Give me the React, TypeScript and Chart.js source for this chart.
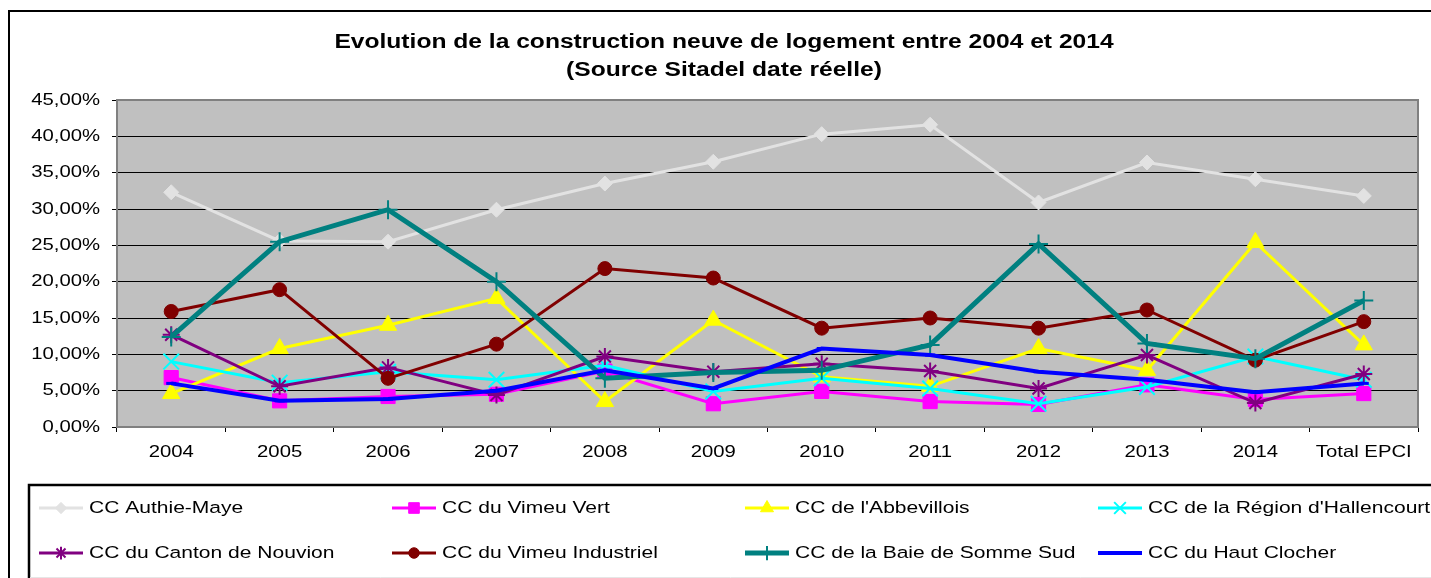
import { useEffect, useRef } from 'react';
import { Chart, registerables } from 'chart.js';
import { drawPoint } from 'chart.js/helpers';

Chart.register(...registerables);

const CATEGORIES = ['2004', '2005', '2006', '2007', '2008', '2009', '2010', '2011', '2012', '2013', '2014', 'Total EPCI'];

const TITLE_LINES = ['Evolution de la construction neuve de logement entre 2004 et 2014', '(Source Sitadel date réelle)'];

const SERIES_NAMES = [
  'CC Authie-Maye',
  'CC du Vimeu Vert',
  "CC de l'Abbevillois",
  "CC de la Région d'Hallencourt",
  'CC du Canton de Nouvion',
  'CC du Vimeu Industriel',
  'CC de la Baie de Somme Sud',
  'CC du Haut Clocher',
];

const AUTHIE_MAYE = [32.3, 25.6, 25.5, 29.9, 33.5, 36.5, 40.3, 41.6, 30.9, 36.4, 34.1, 31.8];
const VIMEU_VERT = [6.8, 3.6, 4.2, 4.5, 7.7, 3.2, 4.9, 3.5, 3.1, 5.8, 3.8, 4.6];
const ABBEVILLOIS = [4.6, 10.8, 14.0, 17.7, 3.5, 14.7, 6.9, 5.6, 10.8, 7.8, 25.4, 11.3];
const HALLENCOURT = [9.0, 6.1, 7.6, 6.5, 8.5, 4.9, 6.7, 5.3, 3.2, 5.5, 9.7, 6.5];
const NOUVION = [12.7, 5.6, 8.2, 4.4, 9.7, 7.6, 8.7, 7.7, 5.3, 9.9, 3.3, 7.3];
const VIMEU_INDUSTRIEL = [15.9, 18.9, 6.7, 11.4, 21.8, 20.5, 13.6, 15.0, 13.6, 16.1, 9.2, 14.5];
const BAIE_SOMME_SUD = [12.4, 25.5, 29.9, 20.0, 6.7, 7.5, 7.8, 11.3, 25.2, 11.5, 9.4, 17.4];
const HAUT_CLOCHER = [6.0, 3.6, 3.85, 5.0, 7.8, 5.3, 10.8, 9.9, 7.6, 6.5, 4.8, 6.0];

const SERIES_VALUES = [AUTHIE_MAYE, VIMEU_VERT, ABBEVILLOIS, HALLENCOURT, NOUVION, VIMEU_INDUSTRIEL, BAIE_SOMME_SUD, HAUT_CLOCHER];

const Y_MIN = 0;
const Y_MAX = 45;
const Y_STEP = 5;

// styles (kept apart from data)
const STYLES = [
  { color: '#E2E2E2', width: 3, point: 'rectRot', radius: 7.5, pbw: 1 },
  { color: '#FF00FF', width: 3, point: 'rect', radius: 10, pbw: 1 },
  { color: '#FFFF00', width: 3, point: 'triangle', radius: 10, pbw: 1 },
  { color: '#00FFFF', width: 3, point: 'crossRot', radius: 11, pbw: 2 },
  { color: '#800080', width: 3, point: 'star', radius: 8.5, pbw: 2 },
  { color: '#800000', width: 3, point: 'circle', radius: 7, pbw: 1 },
  { color: '#008080', width: 5, point: 'cross', radius: 9.5, pbw: 2 },
  { color: '#0000FF', width: 4, point: 'line', radius: 5, pbw: 3 },
];

const SX = 1.23;
const FAMILY = '"Liberation Sans", Arial, sans-serif';

function fmtPct(v: number) {
  return v.toFixed(2).replace('.', ',') + '%';
}

function stretchedText(ctx: CanvasRenderingContext2D, text: string, x: number, y: number, align: CanvasTextAlign, font: string) {
  ctx.save();
  ctx.font = font;
  ctx.textAlign = align;
  ctx.textBaseline = 'middle';
  ctx.fillStyle = '#000';
  ctx.translate(x, y);
  ctx.scale(SX, 1);
  ctx.fillText(text, 0, 0);
  ctx.restore();
}

const decorPlugin = {
  id: 'decor',
  beforeDraw(chart: any) {
    const { ctx, chartArea: a, width, height } = chart;
    ctx.save();
    ctx.fillStyle = '#fff';
    ctx.fillRect(0, 0, width, height);
    ctx.strokeStyle = '#000';
    ctx.lineWidth = 2;
    ctx.strokeRect(9, 11, width + 20, height + 20);
    ctx.fillStyle = '#C0C0C0';
    ctx.fillRect(a.left, a.top, a.right - a.left, a.bottom - a.top);
    ctx.restore();
  },
  beforeDatasetsDraw(chart: any) {
    const { ctx, chartArea: a } = chart;
    ctx.save();
    ctx.strokeStyle = '#808080';
    ctx.lineWidth = 2;
    ctx.beginPath();
    ctx.moveTo(a.left, a.top);
    ctx.lineTo(a.right, a.top);
    ctx.lineTo(a.right, a.bottom);
    ctx.stroke();
    ctx.restore();
  },
  afterDraw(chart: any) {
    const { ctx } = chart;
    // title
    stretchedText(ctx, TITLE_LINES[0], 724, 42, 'center', `bold 20px ${FAMILY}`);
    stretchedText(ctx, TITLE_LINES[1], 724, 70, 'center', `bold 20px ${FAMILY}`);
    // y labels
    const ys = chart.scales.y;
    ys.ticks.forEach((t: any) => {
      stretchedText(ctx, fmtPct(t.value), 100, ys.getPixelForValue(t.value), 'right', `16.5px ${FAMILY}`);
    });
    // x labels
    const xs = chart.scales.x;
    CATEGORIES.forEach((c, i) => {
      stretchedText(ctx, c, xs.getPixelForValue(i), 452, 'center', `16.5px ${FAMILY}`);
    });
    // legend box
    ctx.save();
    ctx.strokeStyle = '#000';
    ctx.lineWidth = 2.5;
    ctx.beginPath();
    ctx.moveTo(29, 578);
    ctx.lineTo(29, 485);
    ctx.lineTo(1431, 485);
    ctx.stroke();
    ctx.strokeStyle = '#E6E6E6';
    ctx.lineWidth = 1;
    ctx.beginPath();
    ctx.moveTo(30, 577.5);
    ctx.lineTo(1431, 577.5);
    ctx.stroke();
    ctx.restore();
    // legend items
    chart.data.datasets.forEach((ds: any, i: number) => {
      const st = STYLES[i];
      const col = i % 4;
      const row = Math.floor(i / 4);
      const x0 = 39 + col * 353;
      const y = row === 0 ? 508 : 553;
      ctx.save();
      ctx.strokeStyle = st.color;
      ctx.lineWidth = st.width;
      ctx.beginPath();
      ctx.moveTo(x0, y);
      ctx.lineTo(x0 + 44, y);
      ctx.stroke();
      ctx.fillStyle = st.color;
      ctx.strokeStyle = st.color;
      ctx.lineWidth = st.pbw;
      drawPoint(ctx, { pointStyle: st.point as any, radius: st.radius * 0.75, borderWidth: st.pbw, rotation: 0 }, x0 + 22, y);
      ctx.restore();
      stretchedText(ctx, ds.label, x0 + 50, y, 'left', `17.1px ${FAMILY}`);
    });
  },
};

export default function App() {
  const ref = useRef<HTMLCanvasElement>(null);
  useEffect(() => {
    const canvas = ref.current;
    if (!canvas) return;
    const n = SERIES_NAMES.length;
    const chart = new Chart(canvas, {
      type: 'line',
      data: {
        labels: CATEGORIES,
        datasets: SERIES_NAMES.map((name, i) => ({
          label: name,
          data: SERIES_VALUES[i],
          borderColor: STYLES[i].color,
          backgroundColor: STYLES[i].color,
          borderWidth: STYLES[i].width,
          pointStyle: STYLES[i].point as any,
          pointRadius: STYLES[i].radius,
          pointBorderWidth: STYLES[i].pbw,
          pointBackgroundColor: STYLES[i].color,
          pointBorderColor: STYLES[i].color,
          tension: 0,
          fill: false,
          order: n - 1 - i,
        })),
      },
      options: {
        responsive: false,
        animation: false,
        devicePixelRatio: 1,
        events: [],
        layout: { padding: { left: 0, right: 7, top: 100, bottom: 578 - 427 - 30 } },
        plugins: {
          legend: { display: false },
          title: { display: false },
          tooltip: { enabled: false },
        },
        scales: {
          x: {
            type: 'category',
            offset: true,
            grid: { offset: true, drawOnChartArea: false, drawTicks: true, tickLength: 5, color: '#000', lineWidth: 1 },
            border: { display: true, color: '#808080', width: 2 },
            ticks: { color: 'rgba(0,0,0,0)', autoSkip: false, maxRotation: 0, minRotation: 0 },
            afterFit: (s: any) => { s.height = 30; },
          },
          y: {
            min: Y_MIN,
            max: Y_MAX,
            ticks: { stepSize: Y_STEP, color: 'rgba(0,0,0,0)', callback: (v: any) => fmtPct(Number(v)) },
            grid: { color: '#000', lineWidth: 1, drawTicks: true, tickLength: 5 },
            border: { display: true, color: '#808080', width: 2 },
            afterFit: (s: any) => { s.width = 117; },
          },
        },
      },
      plugins: [decorPlugin],
    });
    return () => chart.destroy();
  }, []);
  return (
    <div style={{ position: 'fixed', left: 0, top: 0, width: 1431, height: 578, background: '#fff' }}>
      <canvas ref={ref} width={1431} height={578} style={{ display: 'block', width: 1431, height: 578 }} />
    </div>
  );
}
